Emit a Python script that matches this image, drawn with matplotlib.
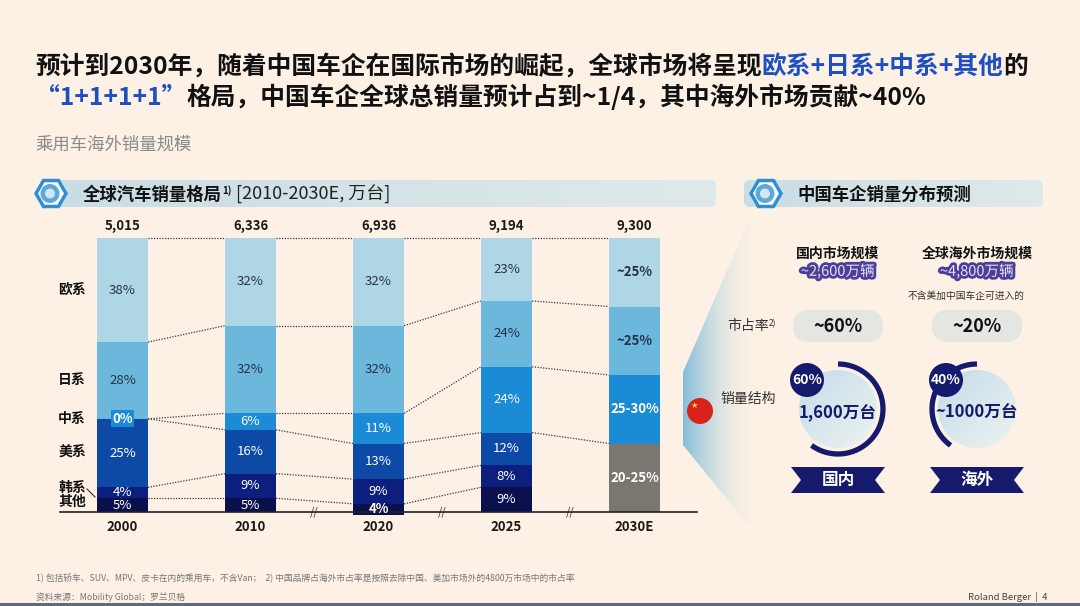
import numpy as np
import matplotlib
matplotlib.use('Agg')
import matplotlib.pyplot as plt
from matplotlib.patches import Polygon, FancyBboxPatch, Circle, RegularPolygon, Rectangle
from matplotlib.colors import to_rgba
import matplotlib.patheffects as pe

plt.rcParams['font.family'] = ['Noto Sans CJK SC', 'DejaVu Sans']

# ---------------- data ----------------
years = ['2000', '2010', '2020', '2025', '2030E']
totals = ['5,015', '6,336', '6,936', '9,194', '9,300']
segments = ['欧系', '日系', '中系', '美系', '韩系', '其他']
eu = [38, 32, 32, 23, 25]
jp = [28, 32, 32, 24, 25]
cn = [0, 6, 11, 24, 25]
us = [25, 16, 13, 12, 0]
kr = [4, 9, 9, 8, 0]
other = [5, 5, 4, 9, 25]
eu_lab = ['38%', '32%', '32%', '23%', '~25%']
jp_lab = ['28%', '32%', '32%', '24%', '~25%']
cn_lab = ['0%', '6%', '11%', '24%', '25-30%']
us_lab = ['25%', '16%', '13%', '12%', '']
kr_lab = ['4%', '9%', '9%', '8%', '']
other_lab = ['5%', '5%', '4%', '9%', '20-25%']

markets = ['国内', '海外']
market_titles = ['国内市场规模', '全球海外市场规模']
market_sizes = ['~2,600万辆', '~4,800万辆']
market_share_lab = ['~60%', '~20%']
sales_share = [60, 40]
sales_lab = ['1,600万台', '~1000万台']

# ---------------- style ----------------
W, H = 1080, 606
BG = '#fcf1e4'
NAVY = '#161a6c'
BLUE_T = '#1d4fc0'
seg_colors = ['#aed6e4', '#6cb8dc', '#1b8bd6', '#0d4aa6', '#0c1f7c', '#0a0f4e']
other_colors = ['#0a0f4e'] * 4 + ['#7b766f']

fig = plt.figure(figsize=(W / 100, H / 100), dpi=100, facecolor=BG)
ov = fig.add_axes([0, 0, 1, 1], zorder=0)
ov.set_xlim(0, W)
ov.set_ylim(H, 0)
ov.axis('off')
renderer = fig.canvas.get_renderer()


def gradient(ax, patch, c0, c1, extent, mode='h', z=1):
    patch.set_facecolor('none')
    patch.set_edgecolor('none')
    ax.add_patch(patch)
    x0, x1, y0, y1 = extent
    n = 200
    a = np.array(to_rgba(c0))
    b = np.array(to_rgba(c1))
    if mode == 'h':
        t = np.tile(np.linspace(0, 1, n)[None, :], (n, 1))
    elif mode == 'v':
        t = np.tile(np.linspace(0, 1, n)[:, None], (1, n))
    else:
        gx, gy = np.meshgrid(np.linspace(0, 1, n), np.linspace(0, 1, n))
        t = (gx + gy) / 2
    img = a + (b - a) * t[..., None]
    im = ax.imshow(img, extent=(x0, x1, y1, y0), origin='upper', aspect='auto',
                   interpolation='bilinear', zorder=z)
    im.set_clip_path(patch)
    return im


def runs(ax, x, y, parts):
    for txt, kw in parts:
        kw = dict(kw)
        dy = kw.pop('dy', 0)
        t = ax.text(x, y + dy, txt, ha='left', va='baseline', **kw)
        bb = t.get_window_extent(renderer=renderer)
        x += bb.width
    return x


# ---------------- title ----------------
TS = 17.8
runs(ov, 35, 74, [('预计到2030年，随着中国车企在国际市场的崛起，全球市场将呈现',
                   dict(fontsize=TS, fontweight='bold', color='#111111')),
                  ('欧系+日系+中系+其他', dict(fontsize=TS, fontweight='bold', color=BLUE_T)),
                  ('的', dict(fontsize=TS, fontweight='bold', color='#111111'))])
runs(ov, 35, 105, [('“1+1+1+1”', dict(fontsize=TS, fontweight='bold', color=BLUE_T)),
                   ('格局，中国车企全球总销量预计占到~1/4，其中海外市场贡献~40%',
                    dict(fontsize=TS, fontweight='bold', color='#111111'))])
ov.text(35, 145, '乘用车海外销量规模', fontsize=12.5, color='#8a8a8a', va='center', ha='left')


# ---------------- section headers ----------------
def header(x0, x1, y0, y1, icon_x):
    p = FancyBboxPatch((x0, y0), x1 - x0, y1 - y0,
                       boxstyle='round,pad=0,rounding_size=6')
    gradient(ov, p, '#c9dde4', '#dfe9ea', (x0, x1, y0, y1), 'h', z=1)
    cy = (y0 + y1) / 2
    ov.add_patch(Circle((icon_x, cy), 15, fc='white', ec='none', zorder=2))
    ov.add_patch(RegularPolygon((icon_x, cy), 6, radius=15, orientation=np.pi / 6,
                                fc='none', ec='#2f8fd2', lw=2.5, zorder=3))
    ov.add_patch(Circle((icon_x - 1, cy), 9.5, fc='#5ea7d9', ec='none', zorder=3))
    ov.add_patch(Circle((icon_x - 1, cy), 5, fc='#cfe6f4', ec='none', zorder=3))


header(40, 716, 180, 207, 51)
header(744, 1043, 180, 207, 766)
runs(ov, 83, 200, [('全球汽车销量格局', dict(fontsize=12.5, fontweight='bold', color='#111')),
                   ('1)', dict(fontsize=7, fontweight='bold', color='#111', dy=-6)),
                   (' [2010-2030E, 万台]', dict(fontsize=13, color='#222'))])
ov.text(797, 200, '中国车企销量分布预测', fontsize=12.5, fontweight='bold', color='#111',
        ha='left', va='baseline')

# ---------------- stacked bars ----------------
def px_axes(l, t, r, b):
    return [l / W, 1 - b / H, (r - l) / W, (b - t) / H]


bx = fig.add_axes(px_axes(60, 238, 697, 512), zorder=2)
bx.patch.set_alpha(0)
bx.set_xlim(-0.488, 4.488)
bx.set_ylim(0, 100)
for s in ['top', 'right', 'left']:
    bx.spines[s].set_visible(False)
bx.spines['bottom'].set_color('#222222')
bx.spines['bottom'].set_linewidth(1.2)
bx.set_xticks([])
bx.set_yticks([])

series = [eu, jp, cn, us, kr, other]
labels = [eu_lab, jp_lab, cn_lab, us_lab, kr_lab, other_lab]
x = np.arange(len(years))
w = 0.40
cum = np.zeros(len(years))
levels = [np.full(len(years), 100.0)]
for k, vals in enumerate(series):
    vals = np.array(vals, float)
    bottoms = 100 - cum - vals
    cols = other_colors if k == 5 else [seg_colors[k]] * len(years)
    bx.bar(x, vals, w, bottom=bottoms, color=cols, clip_on=False, zorder=2)
    for i in range(len(years)):
        lab = labels[k][i]
        if not lab:
            continue
        bold = (i == len(years) - 1) or (k == 5 and i == 2)
        tc = '#26304c' if k < 2 else 'white'
        if vals[i] == 0:
            bx.text(x[i], bottoms[i], lab, ha='center', va='center', fontsize=9.5,
                    fontweight='bold', color='white', zorder=4,
                    bbox=dict(boxstyle='square,pad=0.12', fc=seg_colors[k], ec='none'))
        else:
            bx.text(x[i], bottoms[i] + vals[i] / 2, lab, ha='center', va='center',
                    fontsize=9.5, fontweight='bold' if bold else 'normal', color=tc, zorder=4)
    cum += vals
    levels.append(100 - cum)

# dotted connectors
for i in range(len(years) - 1):
    for lev in range(6):
        if lev >= 1 and series[lev - 1][i + 1] == 0:
            continue
        bx.plot([x[i] + w / 2, x[i + 1] - w / 2], [levels[lev][i], levels[lev][i + 1]],
                ls=(0, (1, 1.2)), color='#3a3a3a', lw=0.9, zorder=1, clip_on=False)

for i in range(len(years)):
    bx.text(x[i], 104.4, totals[i], ha='center', va='center', fontsize=9.5,
            fontweight='bold', color='#1a1a1a')
    bx.text(x[i], -5.3, years[i], ha='center', va='center', fontsize=9.5,
            fontweight='bold', color='#1a1a1a')
for i in range(1, len(years) - 1):
    bx.text(x[i] + 0.5, 0, '//', ha='center', va='center', fontsize=8, color='#333', zorder=3)

# category labels (aligned with 2000 bar)
nudge = [0, 0, 0, 0, 1.6, 1.2]
for k, name in enumerate(segments):
    v = series[k][0]
    top = levels[k][0]
    yc = top - v / 2 + nudge[k]
    bx.text(-0.394, yc, name, ha='center', va='center', fontsize=10,
            fontweight='bold', color='#111', clip_on=False)
ov.plot([87, 95], [489, 497], color='#333', lw=0.8, zorder=3)

# ---------------- right panel ----------------
wedge = Polygon([(748, 222), (683, 372), (683, 445), (748, 525), (800, 525), (800, 222)],
                closed=True)
c_end = list(to_rgba(BG))
c_end[3] = 0.0
gradient(ov, wedge, '#84bddb', tuple(c_end), (683, 760, 222, 525), 'h', z=1)
ov.add_patch(Circle((700, 411), 13, fc='#d8231b', ec='none', zorder=3))
ov.text(694, 405, '★', fontsize=6, color='#ffd83a', ha='center', va='center', zorder=4,
        family=['DejaVu Sans'])

cxs = [838, 977]
for j in range(2):
    cx = cxs[j]
    ov.text(cx, 254, market_titles[j], ha='center', va='center', fontsize=10,
            fontweight='bold', color='#111')
    ov.text(cx, 271, market_sizes[j], ha='center', va='center', fontsize=10.5,
            color='#e4e1f4', zorder=3,
            path_effects=[pe.withStroke(linewidth=4, foreground='#4d3f98')])
    pill = FancyBboxPatch((cx - 45, 310), 90, 32, boxstyle='round,pad=0,rounding_size=16',
                          fc='#e4e6e1', ec='none', zorder=2)
    ov.add_patch(pill)
    ov.text(cx, 326, market_share_lab[j], ha='center', va='center', fontsize=13,
            fontweight='bold', color='#111', zorder=3)
    # circle with share arc
    circ = Circle((cx, 409), 39)
    gradient(ov, circ, '#c3dce9', '#eef3f1', (cx - 39, cx + 39, 370, 448), 'd', z=2)
    span = sales_share[j] / 100 * 360
    t = np.radians(np.linspace(90, 90 - span if j == 0 else 90 + span, 200))
    ov.plot(cx + 45 * np.cos(t), 409 - 45 * np.sin(t), color=NAVY, lw=3.8,
            solid_capstyle='butt', zorder=4)
    ov.add_patch(Circle((cx - 31, 380), 17, fc=NAVY, ec='none', zorder=5))
    ov.text(cx - 31, 380, f'{sales_share[j]}%', ha='center', va='center', fontsize=10,
            fontweight='bold', color='white', zorder=6)
    ov.text(cx, 412, sales_lab[j], ha='center', va='center', fontsize=12,
            fontweight='bold', color=NAVY, zorder=5)
    # ribbon
    rb = Polygon([(cx - 47, 467), (cx + 47, 467), (cx + 37, 480), (cx + 47, 493),
                  (cx - 47, 493), (cx - 37, 480)], closed=True, fc=NAVY, ec='none', zorder=3)
    ov.add_patch(rb)
    ov.text(cx, 480, markets[j], ha='center', va='center', fontsize=12,
            fontweight='bold', color='white', zorder=4)

ov.text(966, 296, '不含美加中国车企可进入的', ha='center', va='center', fontsize=7,
        style='italic', color='#333')
runs(ov, 727, 330, [('市占率', dict(fontsize=10, style='italic', color='#333')),
                    ('2)', dict(fontsize=6, color='#333', dy=-4))])
ov.text(748, 399, '销量结构', ha='center', va='center', fontsize=10, style='italic',
        color='#333')

# ---------------- footer ----------------
ov.text(36, 578, '1) 包括轿车、SUV、MPV、皮卡在内的乘用车，不含Van；  2) 中国品牌占海外市占率是按照去除中国、美加市场外的4800万市场中的市占率',
        fontsize=6.3, color='#777777', ha='left', va='center')
ov.text(36, 597, '资料来源：Mobility Global；罗兰贝格', fontsize=6.3, color='#777777',
        ha='left', va='center')
ov.text(1048, 597, 'Roland Berger  |  4', fontsize=6.8, color='#444444', ha='right',
        va='center')
ov.add_patch(Rectangle((0, 603), W, 3, fc='#5d6b80', ec='none', zorder=5))

ov.set_xlim(0, W)
ov.set_ylim(H, 0)
fig.savefig('out.png', dpi=100, facecolor=BG)
